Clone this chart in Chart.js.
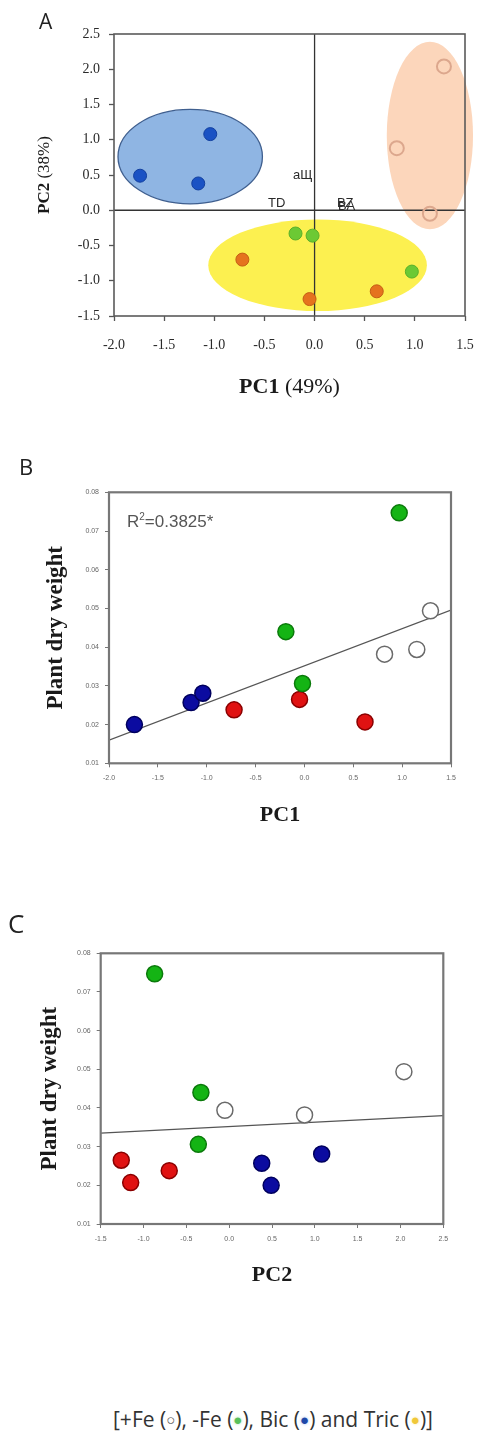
<!DOCTYPE html>
<html><head><meta charset="utf-8">
<script src="https://cdn.jsdelivr.net/npm/chart.js@4/dist/chart.umd.min.js"></script>
<style>
html,body{margin:0;padding:0;background:#fff;}
body{width:478px;height:1432px;position:relative;overflow:hidden;font-family:"Open Sans",sans-serif;}
canvas{position:absolute;left:0;}
.letter{position:absolute;font-family:"Open Sans",sans-serif;color:#222;white-space:nowrap;}
#r2{position:absolute;left:127px;top:513px;font-family:"Liberation Sans Narrow","Liberation Sans",sans-serif;font-size:17px;line-height:17px;color:#555;white-space:nowrap;}
#r2 sup{font-size:10px;vertical-align:7px;line-height:0;}
#legend{position:absolute;left:113px;top:1406px;font-family:"Open Sans",sans-serif;font-size:21px;line-height:27px;color:#333;white-space:nowrap;}
#legend .o{font-size:15px;color:#555;vertical-align:2px;}
#legend .d{font-size:15px;vertical-align:2px;}
#legend .g{color:#58c05a;text-shadow:0 0 3px #a8e0a8;}
#legend .b{color:#1f48a8;text-shadow:0 0 3px #9fb8e8;}
#legend .y{color:#f0c838;text-shadow:0 0 3px #f8e6a0;}
</style></head>
<body>
<canvas id="cA" width="478" height="400" style="top:0px"></canvas>
<canvas id="cB" width="478" height="400" style="top:440px"></canvas>
<canvas id="cC" width="478" height="400" style="top:900px"></canvas>
<div class="letter" style="left:39px;top:11px;font-size:21px;line-height:21px;">A</div>
<div class="letter" style="left:19px;top:455px;font-size:22px;line-height:22px;">B</div>
<div class="letter" style="left:8px;top:910px;font-size:26px;line-height:26px;">C</div>
<div id="r2">R<sup>2</sup>=0.3825*</div>
<div id="legend">[+Fe (<span class="o">○</span>), -Fe (<span class="d g">●</span>), Bic (<span class="d b">●</span>) and Tric (<span class="d y">●</span>)]</div>
<script>
// ---------- data ----------
// group scores on principal components and plant dry weight
const fePlusPC1  = [1.29, 0.82, 1.15];
const fePlusPC2  = [2.04, 0.88, -0.05];
const fePlusDW   = [0.0494, 0.0382, 0.0394];
const feMinusPC1 = [0.97, -0.19, -0.02];
const feMinusPC2 = [-0.87, -0.33, -0.36];
const feMinusDW  = [0.0747, 0.0440, 0.0306];
const bicPC1     = [-1.74, -1.16, -1.04];
const bicPC2     = [0.49, 0.38, 1.08];
const bicDW      = [0.0200, 0.0257, 0.0281];
const tricPC1    = [-0.72, -0.05, 0.62];
const tricPC2    = [-0.70, -1.26, -1.15];
const tricDW     = [0.0238, 0.0265, 0.0207];
// group ellipses in panel A (data units)
const ellipseCX = [-1.24, 1.15, 0.03];
const ellipseCY = [0.76, 1.06, -0.78];
const ellipseRX = [0.72, 0.43, 1.09];
const ellipseRY = [0.67, 1.33, 0.65];
// variable labels in panel A
const varLabels = ['aЩ', 'TD', 'BZ', 'BA'];
const varLabelX = [-0.215, -0.465, 0.223, 0.233];
const varLabelY = [0.50, 0.10, 0.10, 0.06];
// regression lines
const fitB_X = [-2.0, 1.5];
const fitB_Y = [0.0160, 0.0496];
const fitC_X = [-1.5, 2.5];
const fitC_Y = [0.0335, 0.0380];
// axis ranges / ticks
const axA_X = [-2.0, 1.5, 0.5];
const axA_Y = [-1.5, 2.5, 0.5];
const axB_X = [-2.0, 1.5, 0.5];
const axDW  = [0.01, 0.08, 0.01];
const axC_X = [-1.5, 2.5, 0.5];

const pts = (xs, ys) => xs.map((x, i) => ({x: x, y: ys[i]}));

function mkScale(axis, rng, o) {
  return {
    type: 'linear', position: axis === 'x' ? 'bottom' : 'left',
    min: rng[0], max: rng[1],
    ticks: {stepSize: rng[2], autoSkip: false, maxRotation: 0, minRotation: 0,
      padding: o.pad, color: o.tickColor, font: o.font,
      callback: (v) => Number(v).toFixed(o.dec)},
    grid: {drawOnChartArea: false, drawTicks: true, tickLength: o.tickLen,
      tickColor: o.lineColor, tickWidth: o.tickW},
    border: {display: false},
    afterFit: (s) => {
      if (axis === 'x') s.height = o.size; else s.width = o.size;
      s.paddingLeft = 0; s.paddingRight = 0; s.paddingTop = 0; s.paddingBottom = 0;
    }
  };
}

function framePlugin(color, width) {
  return {id: 'frame', afterDatasetsDraw(chart) {
    const a = chart.chartArea, c = chart.ctx;
    c.save(); c.strokeStyle = color; c.lineWidth = width;
    c.strokeRect(a.left, a.top, a.right - a.left, a.bottom - a.top);
    c.restore();
  }};
}

function titlesPlugin(xParts, xY, yParts, yX) {
  function drawParts(c, parts) {
    let total = 0;
    parts.forEach(p => { c.font = p.font; p.w = c.measureText(p.t).width; total += p.w; });
    let x = -total / 2;
    parts.forEach(p => { c.font = p.font; c.fillText(p.t, x, 0); x += p.w; });
  }
  return {id: 'titles', afterDraw(chart) {
    const a = chart.chartArea, c = chart.ctx;
    c.save(); c.fillStyle = '#1a1a1a'; c.textBaseline = 'middle'; c.textAlign = 'left';
    c.save(); c.translate((a.left + a.right) / 2, xY); drawParts(c, xParts); c.restore();
    c.save(); c.translate(yX, (a.top + a.bottom) / 2); c.rotate(-Math.PI / 2); drawParts(c, yParts); c.restore();
    c.restore();
  }};
}

const SERIF = '"Liberation Serif","Times New Roman",serif';
const SANS = '"Liberation Sans",Arial,sans-serif';

// ---------- Panel A ----------
const ellipseFill = ['#8fb5e3', '#fcd6bb', '#fcf050'];
const ellipseStroke = ['#3f5f8f', null, null];
const pcaDecor = {id: 'pcaDecor', beforeDatasetsDraw(chart) {
  const xs = chart.scales.x, ys = chart.scales.y, c = chart.ctx, a = chart.chartArea;
  c.save();
  ellipseCX.forEach((cx, i) => {
    const px = xs.getPixelForValue(cx), py = ys.getPixelForValue(ellipseCY[i]);
    const rx = Math.abs(xs.getPixelForValue(cx + ellipseRX[i]) - px);
    const ry = Math.abs(ys.getPixelForValue(ellipseCY[i] + ellipseRY[i]) - py);
    c.beginPath(); c.ellipse(px, py, rx, ry, 0, 0, Math.PI * 2);
    c.fillStyle = ellipseFill[i]; c.fill();
    if (ellipseStroke[i]) { c.strokeStyle = ellipseStroke[i]; c.lineWidth = 1.3; c.stroke(); }
  });
  c.strokeStyle = '#333'; c.lineWidth = 1.3;
  const x0 = xs.getPixelForValue(0), y0 = ys.getPixelForValue(0);
  c.beginPath(); c.moveTo(x0, a.top); c.lineTo(x0, a.bottom); c.stroke();
  c.beginPath(); c.moveTo(a.left, y0); c.lineTo(a.right, y0); c.stroke();
  c.font = '13px ' + SANS; c.fillStyle = '#2a2a2a'; c.textBaseline = 'middle'; c.textAlign = 'left';
  varLabels.forEach((t, i) => c.fillText(t, xs.getPixelForValue(varLabelX[i]), ys.getPixelForValue(varLabelY[i])));
  c.restore();
}};

const optA = {font: {family: SERIF, size: 14}, tickColor: '#2a2a2a', lineColor: '#555', tickW: 1.3, dec: 1};
new Chart(document.getElementById('cA'), {
  type: 'scatter',
  data: {datasets: [
    {data: pts(fePlusPC1, fePlusPC2), pointRadius: 7, pointBackgroundColor: 'rgba(0,0,0,0)', pointBorderColor: '#dca78d', pointBorderWidth: 2},
    {data: pts(feMinusPC1, feMinusPC2), pointRadius: 6.5, pointBackgroundColor: '#6cc934', pointBorderColor: '#5ab02a', pointBorderWidth: 1},
    {data: pts(bicPC1, bicPC2), pointRadius: 6.5, pointBackgroundColor: '#1a52c4', pointBorderColor: '#1240a0', pointBorderWidth: 1},
    {data: pts(tricPC1, tricPC2), pointRadius: 6.5, pointBackgroundColor: '#e5731e', pointBorderColor: '#c45e14', pointBorderWidth: 1}
  ]},
  options: {
    responsive: false, animation: false, events: [],
    layout: {padding: {left: 0, right: 13, top: 34, bottom: 34}},
    plugins: {legend: {display: false}, tooltip: {enabled: false}},
    scales: {
      x: mkScale('x', axA_X, Object.assign({pad: 16, tickLen: 5, size: 50}, optA)),
      y: mkScale('y', axA_Y, Object.assign({pad: 9, tickLen: 5, size: 114}, optA))
    }
  },
  plugins: [pcaDecor, framePlugin('#5a5a5a', 1.6),
    titlesPlugin([{t: 'PC1', font: 'bold 22px ' + SERIF}, {t: ' (49%)', font: '22px ' + SERIF}], 387,
                 [{t: 'PC2', font: 'bold 17px ' + SERIF}, {t: ' (38%)', font: '17px ' + SERIF}], 45)]
});

// ---------- Panels B and C ----------
const optBC = {font: {family: SANS, size: 7}, tickColor: '#666', lineColor: '#777', tickW: 1, dec: 1};
const optBCy = Object.assign({}, optBC, {dec: 2});
function dwDatasets(xFP, xFM, xB, xT, fitX, fitY) {
  return [
    {data: pts(xFP, fePlusDW), pointRadius: 8, pointBackgroundColor: '#ffffff', pointBorderColor: '#6a6a6a', pointBorderWidth: 1.5},
    {data: pts(xFM, feMinusDW), pointRadius: 8, pointBackgroundColor: '#14b414', pointBorderColor: '#0b7a0b', pointBorderWidth: 1.5},
    {data: pts(xB, bicDW), pointRadius: 8, pointBackgroundColor: '#0b0ba0', pointBorderColor: '#00005e', pointBorderWidth: 1.5},
    {data: pts(xT, tricDW), pointRadius: 8, pointBackgroundColor: '#e01212', pointBorderColor: '#8a0000', pointBorderWidth: 1.5},
    {data: pts(fitX, fitY), showLine: true, pointRadius: 0, borderColor: '#555', borderWidth: 1.3, fill: false}
  ];
}
function dwChart(id, datasets, xRange, pad, xTitle) {
  return new Chart(document.getElementById(id), {
    type: 'scatter',
    data: {datasets: datasets},
    options: {
      responsive: false, animation: false, events: [],
      layout: {padding: pad.padding},
      plugins: {legend: {display: false}, tooltip: {enabled: false}},
      scales: {
        x: mkScale('x', xRange, Object.assign({pad: 7, tickLen: 4, size: 50}, optBC)),
        y: mkScale('y', axDW, Object.assign({pad: 6, tickLen: 4, size: pad.left}, optBCy))
      }
    },
    plugins: [framePlugin('#777', 2.2),
      titlesPlugin([{t: xTitle, font: 'bold 22px ' + SERIF}], pad.xTitleY,
                   [{t: 'Plant dry weight', font: 'bold 23px ' + SERIF}], pad.yTitleX)]
  });
}
dwChart('cB', dwDatasets(fePlusPC1, feMinusPC1, bicPC1, tricPC1, fitB_X, fitB_Y), axB_X,
  {left: 109, padding: {left: 0, right: 27, top: 52.3, bottom: 26.7}, xTitleY: 375, yTitleX: 56}, 'PC1');
dwChart('cC', dwDatasets(fePlusPC2, feMinusPC2, bicPC2, tricPC2, fitC_X, fitC_Y), axC_X,
  {left: 100.7, padding: {left: 0, right: 34.7, top: 53.3, bottom: 26}, xTitleY: 375, yTitleX: 50}, 'PC2');
</script>
</body></html>
